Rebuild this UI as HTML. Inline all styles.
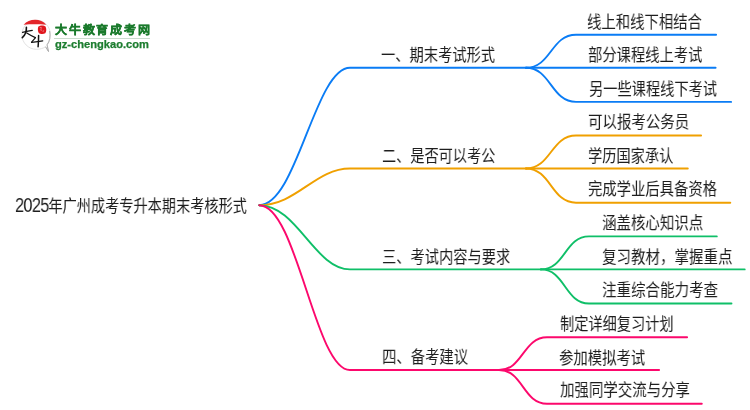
<!DOCTYPE html>
<html lang="zh-CN"><head><meta charset="utf-8"><style>
html,body{margin:0;padding:0;background:#fff;width:750px;height:410px;overflow:hidden}
body{position:relative;font-family:"Liberation Sans",sans-serif}
.t{position:absolute;white-space:nowrap;font-size:17px;line-height:1;color:#1e1e1e;transform-origin:0 0;will-change:transform}
svg{position:absolute;left:0;top:0}
.dg{font-size:19.6px;letter-spacing:-0.8px}
.lg{font-size:11.6px;letter-spacing:1.3px;font-weight:bold;color:#1a7a2c;-webkit-text-stroke:0.35px #1a7a2c}
.lu{font-size:10.2px;font-weight:bold;color:#1d7d30;-webkit-text-stroke:0.25px #1d7d30}
#mm path{fill:none;stroke-width:1.9;stroke-linecap:round}
</style></head><body>
<svg id="mm" width="750" height="410" viewBox="0 0 750 410">
<path d="M259.3,205.2 C296.8,205.2 315,67.8 350,67.8 L526,67.8" stroke="#0a7cf5"/>
<path d="M526,67.8 C551.0,67.8 551.0,34.7 576,34.7 L716.1,34.7" stroke="#0a7cf5"/>
<path d="M526,67.8 C551.0,67.8 551.0,67.8 576,67.8 L715.6,67.8" stroke="#0a7cf5"/>
<path d="M526,67.8 C551.0,67.8 551.0,101.9 576,101.9 L731.1,101.9" stroke="#0a7cf5"/>
<path d="M259.3,205.2 C296.8,205.2 315,168.5 350,168.5 L526,168.5" stroke="#f0a000"/>
<path d="M526,168.5 C551.0,168.5 551.0,135.5 576,135.5 L701.1,135.5" stroke="#f0a000"/>
<path d="M526,168.5 C551.0,168.5 551.0,168.5 576,168.5 L687.8000000000001,168.5" stroke="#f0a000"/>
<path d="M526,168.5 C551.0,168.5 551.0,202.7 576,202.7 L730.3000000000001,202.7" stroke="#f0a000"/>
<path d="M259.3,205.2 C296.8,205.2 315,269.4 350,269.4 L541,269.4" stroke="#0fbf68"/>
<path d="M541,269.4 C565.0,269.4 565.0,236.4 589,236.4 L716.8000000000001,236.4" stroke="#0fbf68"/>
<path d="M541,269.4 C565.0,269.4 565.0,269.4 589,269.4 L744.7,269.4" stroke="#0fbf68"/>
<path d="M541,269.4 C565.0,269.4 565.0,303.5 589,303.5 L731.5,303.5" stroke="#0fbf68"/>
<path d="M259.3,205.2 C296.8,205.2 315,370 350,370 L499,370" stroke="#fc086c"/>
<path d="M499,370 C523.0,370 523.0,337.3 547,337.3 L687.1,337.3" stroke="#fc086c"/>
<path d="M499,370 C523.0,370 523.0,370 547,370 L659.1,370" stroke="#fc086c"/>
<path d="M499,370 C523.0,370 523.0,403.7 547,403.7 L701.8000000000001,403.7" stroke="#fc086c"/>
</svg>
<div id="uline" style="position:absolute;left:54px;top:38.2px;width:96px;height:1.2px;background:#cadcce"></div>
<svg id="logo" width="60" height="60" viewBox="0 0 60 60" style="position:absolute;left:0;top:0">
<path d="M45.8,46.6 C43.2,48.4 40,49.3 36.4,49.3 C28.4,49.3 21.9,42.8 21.9,34.7 C21.9,26.7 28.4,20.2 36.4,20.2 C44.4,20.2 50.4,26.7 50.4,34.7 C50.4,38.8 49.3,42.2 47.2,44.9 L48.6,51.8 Z" fill="#fff" stroke="#dadada" stroke-width="0.8"/>
<path d="M49.6,31 C50.6,36 49.8,41.5 47,44.8 L48.5,51.5 L45.5,46.8" fill="none" stroke="#a8a8a8" stroke-width="0.9"/>
<path d="M23.6,24.7 C26.5,21.5 30.6,19.8 35,19.8 C39.6,19.8 43.6,21.6 46.2,24.7 C39,24.2 31,24.2 23.6,24.7 Z" fill="#e3262b"/>
<path d="M38.4,26.6 C40,25.1 44.2,25 45.5,26.6 C46.6,28.6 46.5,31.8 45.3,33.3 C43.5,34.3 40.2,34.2 38.8,33 C37.6,31.2 37.6,28.3 38.4,26.6 Z" fill="#e0161e"/>
<path d="M39.8,27.6 l2.2,0.5 M40.3,29.8 l1.6,0.4 M42.6,31.2 l1.5,-0.3" stroke="#f7c4c4" stroke-width="0.7" fill="none"/>
<g stroke="#121212" stroke-linecap="round" fill="none">
<path d="M22.5,32.4 C25.5,31.7 29,30.9 32.3,30.3" stroke-width="1.2"/>
<path d="M26.4,27.2 C26.6,31.5 25,35.2 22.3,37.6" stroke-width="1.6"/>
<path d="M26.8,33 C29.3,34.6 32.2,36.4 35.4,37.6" stroke-width="1.3"/>
<path d="M35.3,37.8 L31.6,42.2" stroke-width="1.2"/>
<path d="M31.6,42.4 C35.2,41.8 39,41.2 42.7,40.8" stroke-width="1.3"/>
<path d="M38.6,35.6 C38.6,40 38.4,43.5 38.1,46.8" stroke-width="1.5"/>
</g>
</svg>

<div class="t c" style="left:15.02px;top:196.00px;transform:scaleX(0.8343)"><span class="dg">2025</span>年广州成考专升本期末考核形式</div>
<div class="t m" style="left:381.02px;top:46.75px;transform:scaleX(0.839)">一、期末考试形式</div>
<div class="t m" style="left:381.94px;top:148.25px;transform:scaleX(0.8332)">二、是否可以考公</div>
<div class="t m" style="left:381.90px;top:249.30px;transform:scaleX(0.838)">三、考试内容与要求</div>
<div class="t m" style="left:381.97px;top:349.40px;transform:scaleX(0.8447)">四、备考建议</div>
<div class="t s" style="left:586.99px;top:13.70px;transform:scaleX(0.8451)">线上和线下相结合</div>
<div class="t s" style="left:587.94px;top:47.20px;transform:scaleX(0.8413)">部分课程线上考试</div>
<div class="t s" style="left:588.93px;top:80.50px;transform:scaleX(0.837)">另一些课程线下考试</div>
<div class="t s" style="left:587.92px;top:114.20px;transform:scaleX(0.8504)">可以报考公务员</div>
<div class="t s" style="left:587.99px;top:148.20px;transform:scaleX(0.8367)">学历国家承认</div>
<div class="t s" style="left:587.98px;top:180.95px;transform:scaleX(0.8433)">完成学业后具备资格</div>
<div class="t s" style="left:601.95px;top:215.25px;transform:scaleX(0.8509)">涵盖核心知识点</div>
<div class="t s" style="left:602.02px;top:248.65px;transform:scaleX(0.853)">复习教材，掌握重点</div>
<div class="t s" style="left:601.95px;top:282.30px;transform:scaleX(0.8536)">注重综合能力考查</div>
<div class="t s" style="left:560.02px;top:316.05px;transform:scaleX(0.835)">制定详细复习计划</div>
<div class="t s" style="left:559.00px;top:349.95px;transform:scaleX(0.8451)">参加模拟考试</div>
<div class="t s" style="left:560.03px;top:382.30px;transform:scaleX(0.8494)">加强同学交流与分享</div>
<div class="t lg" style="left:54.90px;top:24.40px;transform:scaleX(1.037)">大牛教育成考网</div>
<div class="t lu" style="left:55.10px;top:39.50px;transform:scaleX(1.0919)">gz-chengkao.com</div>
</body></html>
